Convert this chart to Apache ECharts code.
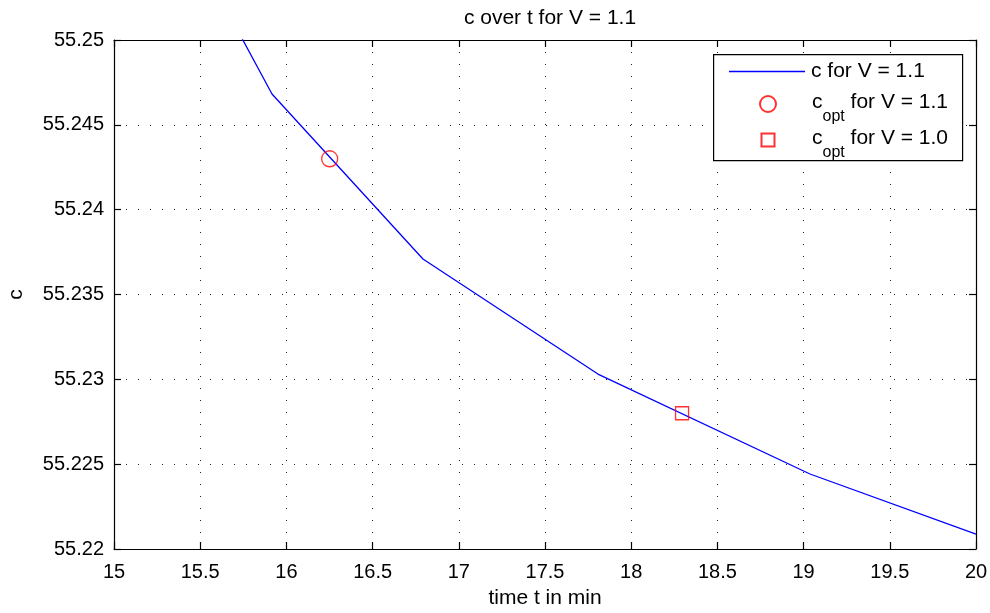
<!DOCTYPE html>
<html>
<head>
<meta charset="utf-8">
<script src="https://cdn.jsdelivr.net/npm/echarts@6/dist/echarts.min.js"></script>
<style>html,body{margin:0;padding:0;background:#fff;}#c{width:990px;height:613px;}</style>
</head>
<body>
<div id="c"></div>
<script>
// ---- data ----
var titleText = 'c over t for V = 1.1';
var xName = 'time t in min';
var yName = 'c';
var tVals = [15.2, 15.9165, 16.792, 17.807, 19.037, 20.0];
var cVals = [55.2603, 55.24682, 55.23709, 55.23031, 55.22442, 55.22088];
var optNew = [[16.251, 55.243]];
var optOld = [[18.295, 55.228]];
var seriesNames = ['c for V = 1.1', 'c_opt for V = 1.1', 'c_opt for V = 1.0'];
var xTicks = [15, 15.5, 16, 16.5, 17, 17.5, 18, 18.5, 19, 19.5, 20];
var yTicks = [55.22, 55.225, 55.23, 55.235, 55.24, 55.245, 55.25];

var FONT = 'Liberation Sans, Arial, Helvetica, sans-serif';
var FS = 20;
var FL = 21;
var chart = echarts.init(document.getElementById('c'), null, {renderer: 'canvas'});

var lineData = tVals.map(function (t, i) { return [t, cVals[i]]; });
var gridLine = {show: true, lineStyle: {color: '#222', width: 1, type: [1, 11]}};
var axisLine = {show: true, onZero: false, lineStyle: {color: '#000', width: 1.2}};
var tick = {show: true, inside: true, length: 7, lineStyle: {color: '#000', width: 1.2}};

var legendRich = {
  m: {fontFamily: FONT, fontSize: FL, color: '#000', lineHeight: 24, verticalAlign: 'middle'},
  n: {fontFamily: FONT, fontSize: FL, color: '#000', lineHeight: 24, verticalAlign: 'top'},
  s: {fontFamily: FONT, fontSize: 16, color: '#000', lineHeight: 14, padding: [17, 0, 0, 0], verticalAlign: 'top'}
};
function legendFormatter(name) {
  if (name.indexOf('c_opt') === 0) {
    return '{n|c}{s|opt}{n|' + name.slice(5) + '}';
  }
  return '{m|' + name + '}';
}
function makeLegend(item, left, top) {
  return {
    orient: 'vertical', left: left, top: top, padding: 0, itemGap: 0, z: 8,
    itemWidth: 76, itemHeight: 16, selectedMode: false,
    data: [item], formatter: legendFormatter,
    textStyle: {color: '#000', fontFamily: FONT, fontSize: FL, padding: [0, 0, 0, 1], rich: legendRich}
  };
}

chart.setOption({
  backgroundColor: '#fff',
  animation: false,
  textStyle: {fontFamily: FONT},
  title: {
    text: titleText, left: 545, top: 3, textAlign: 'center',
    textStyle: {fontFamily: FONT, fontSize: FL, fontWeight: 'normal', color: '#000'}
  },
  grid: {left: 114, right: 14, top: 40, bottom: 64, containLabel: false, outerBoundsMode: 'none'},
  graphic: [{
    type: 'rect', left: 713, top: 54, z: 5,
    shape: {width: 249, height: 106},
    style: {fill: '#fff', stroke: '#000', lineWidth: 1.2}
  }],
  xAxis: [{
    type: 'value', min: xTicks[0], max: xTicks[xTicks.length - 1], interval: 0.5,
    position: 'bottom',
    name: xName, nameLocation: 'middle', nameGap: 39,
    nameTextStyle: {fontFamily: FONT, fontSize: FL, color: '#000'},
    axisLine: axisLine, axisTick: tick, splitLine: gridLine,
    axisLabel: {color: '#000', fontFamily: FONT, fontSize: FS, margin: 13,
      formatter: function (v) { return String(+v.toFixed(2)); }}
  }, {
    type: 'value', min: xTicks[0], max: xTicks[xTicks.length - 1], interval: 0.5,
    position: 'top', axisLine: axisLine, axisTick: tick,
    splitLine: {show: false}, axisLabel: {show: false}
  }],
  yAxis: [{
    type: 'value', min: yTicks[0], max: yTicks[yTicks.length - 1], interval: 0.005,
    position: 'left',
    name: yName, nameLocation: 'middle', nameGap: 87,
    nameTextStyle: {fontFamily: FONT, fontSize: FL, color: '#000'},
    axisLine: axisLine, axisTick: tick, splitLine: gridLine,
    axisLabel: {color: '#000', fontFamily: FONT, fontSize: FS, margin: 10,
      formatter: function (v) { return String(+v.toFixed(3)); }}
  }, {
    type: 'value', min: yTicks[0], max: yTicks[yTicks.length - 1], interval: 0.005,
    position: 'right', axisLine: axisLine, axisTick: tick,
    splitLine: {show: false}, axisLabel: {show: false}
  }],
  legend: [
    makeLegend({name: seriesNames[0], icon: 'path://M0,0M76,16M0,7.35L76,7.35L76,8.65L0,8.65Z'}, 729, 61),
    makeLegend({name: seriesNames[1]}, 759, 92),
    makeLegend({name: seriesNames[2], icon: 'path://M0,0M16,16M1.5,1.5L14.5,1.5L14.5,14.5L1.5,14.5Z'}, 759, 128)
  ],
  series: [{
    name: seriesNames[0], type: 'line', data: lineData, z: 2,
    showSymbol: false, symbol: 'none', clip: true,
    lineStyle: {color: '#0000ff', width: 1.3}, itemStyle: {color: '#0000ff'}
  }, {
    name: seriesNames[1], type: 'scatter', data: optNew, z: 3,
    symbol: 'circle', symbolSize: 16,
    itemStyle: {color: 'rgba(0,0,0,0)', borderColor: '#ff0000', borderWidth: 1.3}
  }, {
    name: seriesNames[2], type: 'scatter', data: optOld, z: 3,
    symbol: 'rect', symbolSize: 13,
    itemStyle: {color: 'rgba(0,0,0,0)', borderColor: '#ff0000', borderWidth: 1.3}
  }]
});
</script>
</body>
</html>
